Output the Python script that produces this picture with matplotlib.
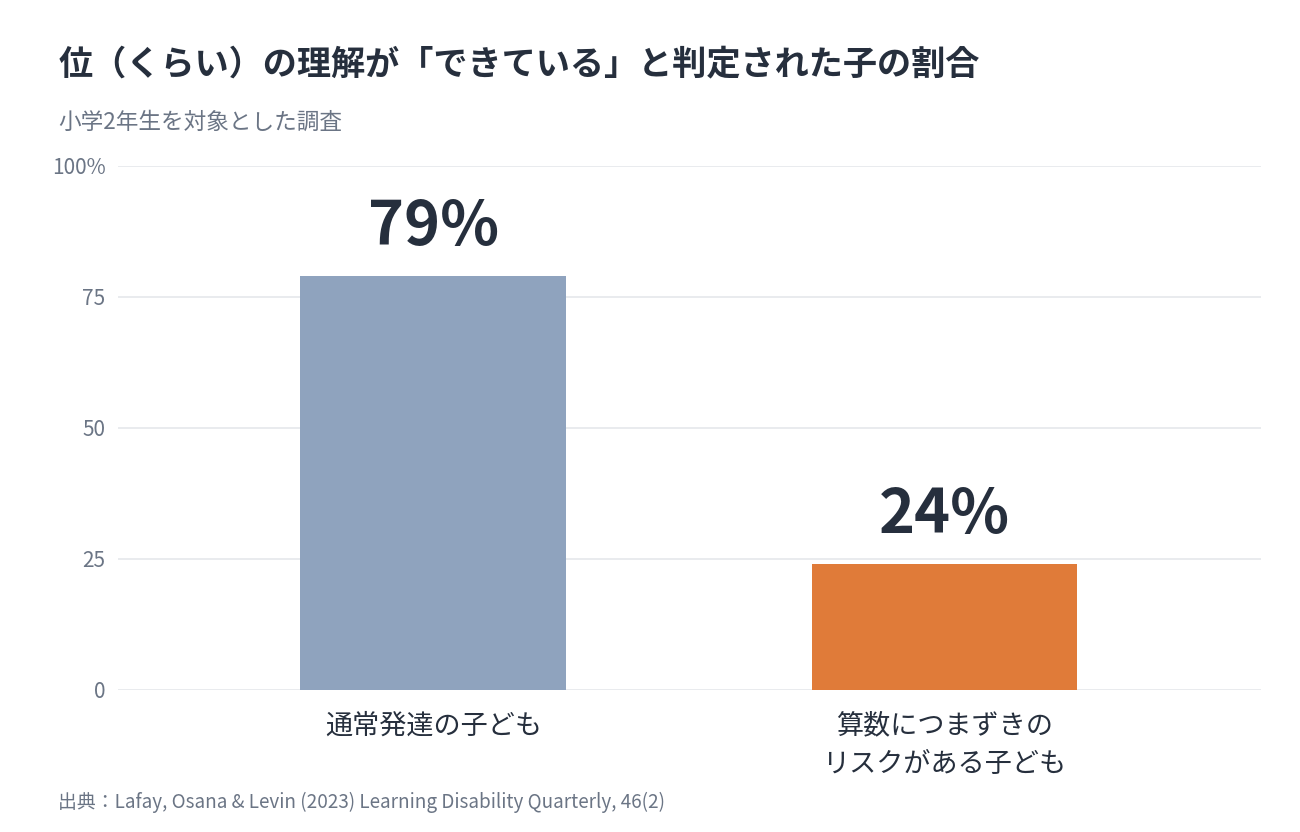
import matplotlib
matplotlib.use("Agg")
import matplotlib.pyplot as plt

plt.rcParams['font.family'] = ['Noto Sans CJK JP', 'DejaVu Sans']

categories = ["通常発達の子ども", "算数につまずきの\nリスクがある子ども"]
values = [79, 24]
bar_colors = ["#8fa3be", "#e07b39"]
yticks = [0, 25, 50, 75, 100]
ytick_labels = ["0", "25", "50", "75", "100%"]

title = "位（くらい）の理解が「できている」と判定された子の割合"
subtitle = "小学2年生を対象とした調査"
source = "出典：Lafay, Osana & Levin (2023) Learning Disability Quarterly, 46(2)"

dark = "#262f3d"
gray = "#6b7585"

fig = plt.figure(figsize=(13, 8.32), dpi=100)
ax = fig.add_axes([0.0908, 0.1707, 0.879, 0.6298])

x = list(range(len(categories)))
ax.bar(x, values, width=0.52, color=bar_colors, zorder=3)
for xi, v in zip(x, values):
    ax.text(xi, v + 3.4, f"{v}%", ha="center", va="bottom",
            fontsize=44, fontweight="bold", color=dark)

ax.set_xlim(-0.617, 1.619)
ax.set_ylim(0, 100)
ax.set_yticks(yticks)
ax.set_yticklabels(ytick_labels)
ax.set_xticks(x)
ax.set_xticklabels(categories, fontsize=19.5, color=dark, linespacing=1.55)
ax.tick_params(axis="y", length=0, pad=9, labelsize=15, labelcolor=gray)
ax.tick_params(axis="x", length=0, pad=16)
ax.grid(axis="y", color="#e5e7eb", linewidth=1.2, zorder=0)
for s in ax.spines.values():
    s.set_visible(False)

fig.text(0.045, 0.923, title, fontsize=24.6, fontweight="bold", color=dark, va="center")
fig.text(0.045, 0.853, subtitle, fontsize=16.3, color=gray, va="center")
fig.text(0.045, 0.035, source, fontsize=13.6, color=gray, va="center")

fig.savefig("out.png", dpi=100)
